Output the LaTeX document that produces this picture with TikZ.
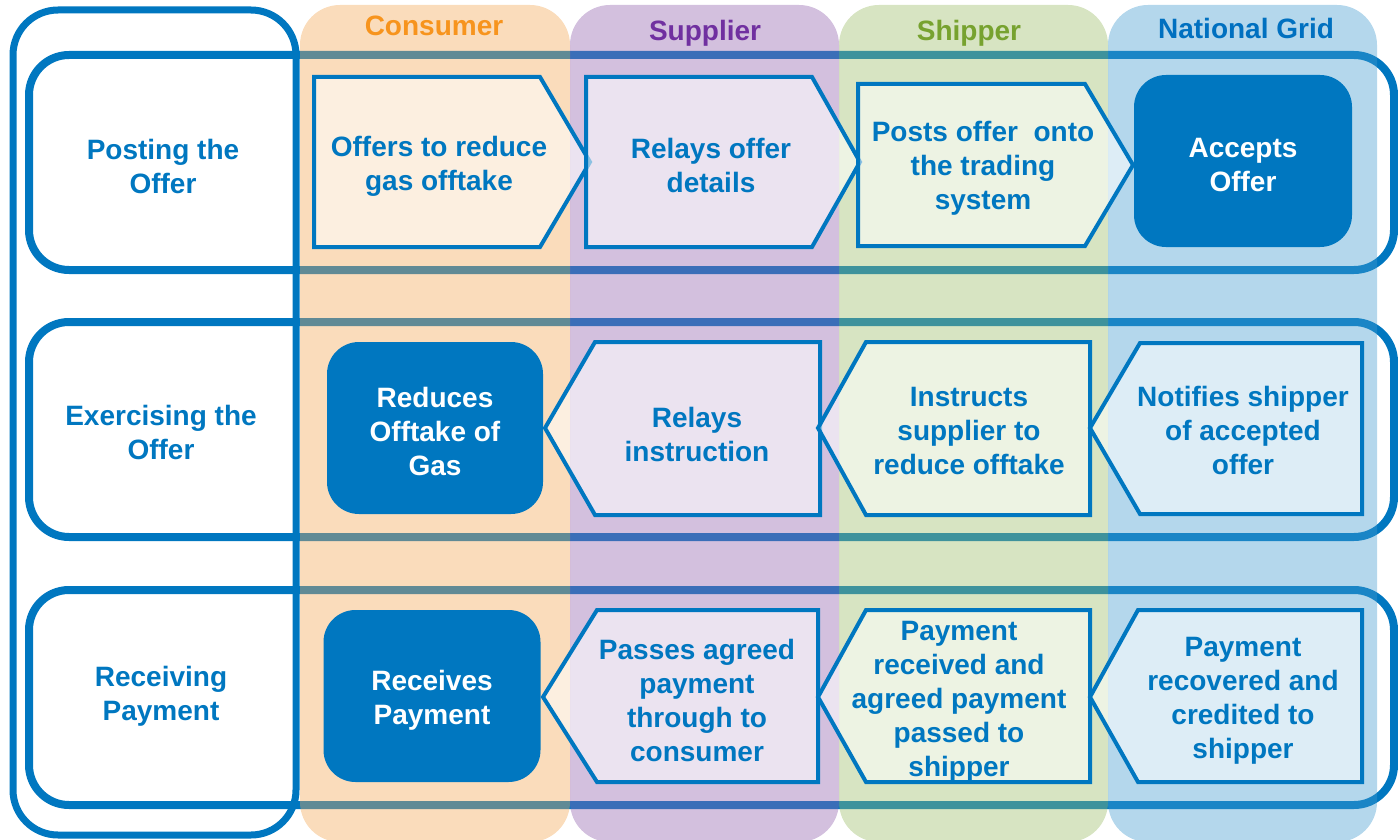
\documentclass[tikz,border=0pt]{standalone}
\usepackage{fontspec}
\setmainfont{Liberation Sans}
\definecolor{ngblue}{RGB}{0,119,192}
\definecolor{consC}{RGB}{242,167,85}
\definecolor{suppC}{RGB}{145,98,173}
\definecolor{shipC}{RGB}{155,187,102}
\definecolor{gridC}{RGB}{67,155,207}
\definecolor{consT}{RGB}{247,148,29}
\definecolor{suppT}{RGB}{112,48,160}
\definecolor{shipT}{RGB}{119,162,47}
\definecolor{gridT}{RGB}{0,112,192}
\tikzset{
  rowbox/.style={draw=ngblue, line width=8pt, rounded corners=40pt},
  tallbox/.style={draw=ngblue, line width=7pt, rounded corners=45pt},
  band/.style={fill opacity=0.4, rounded corners=40pt},
  chev/.style={draw=ngblue, line width=4pt, fill=white, fill opacity=0.55, line join=miter},
  darkbox/.style={fill=ngblue, rounded corners=32pt, inner sep=0pt},
  txt/.style={text=ngblue, font=\fontsize{28}{34}\selectfont\bfseries, align=center, inner sep=0pt},
  wtxt/.style={txt, text=white},
  head/.style={font=\fontsize{28}{34}\selectfont\bfseries, inner sep=0pt}
}
\begin{document}
\begin{tikzpicture}[x=1pt, y=-1pt]
\useasboundingbox (0,0) rectangle (1398,840);
% outlines
\draw[tallbox] (13,10) rectangle (296,835);
\draw[rowbox] (29,55) rectangle (1394,270);
\draw[rowbox] (29,322) rectangle (1394,537);
\draw[rowbox] (29,590) rectangle (1394,805);
% bands
\fill[band, consC] (300,5) rectangle (570,842);
\fill[band, suppC] (570,5) rectangle (839,842);
\fill[band, shipC] (839,5) rectangle (1108,842);
\fill[band, gridC] (1108,5) rectangle (1377,842);
% headers
\node[head, text=consT] (hcons) at (434,26) {Consumer};
\node[head, text=suppT] (hsupp) at (705,33) {Supplier};
\node[head, text=shipT] (hship) at (969,33) {Shipper};
\node[head, text=gridT] (hgrid) at (1246,28) {National Grid};
% row labels
\node[txt] (lpost) at (163,166) {Posting the\\Offer};
\node[txt] (lexer) at (161,432) {Exercising the\\Offer};
\node[txt] (lrecv) at (161,696) {Receiving\\Payment};
% row 1
\draw[chev] (314,77) -- (540,77) -- (590,162) -- (540,247) -- (314,247) -- cycle;
\node[txt] (offers) at (439,166) {Offers to reduce\\gas offtake};
\draw[chev] (586,77) -- (812,77) -- (860,162) -- (812,247) -- (586,247) -- cycle;
\node[txt] (relays) at (711,165) {Relays offer\\details};
\draw[chev] (858,84) -- (1085,84) -- (1133,165) -- (1085,246) -- (858,246) -- cycle;
\node[txt] (posts) at (983,168) {Posts offer\ \ onto\\the trading\\system};
\node[darkbox, minimum width=218pt, minimum height=172pt] (acceptbox) at (1243,161) {};
\node[wtxt] (accept) at (1243,165) {Accepts\\Offer};
% row 2
\node[darkbox, minimum width=216pt, minimum height=172pt] (reducebox) at (435,428) {};
\node[wtxt] (reduce) at (435,431) {Reduces\\Offtake of\\Gas};
\draw[chev] (820,342) -- (595,342) -- (545,428) -- (595,515) -- (820,515) -- cycle;
\node[txt] (relinst) at (697,434) {Relays\\instruction};
\draw[chev] (1090,342) -- (866,342) -- (818,428) -- (866,515) -- (1090,515) -- cycle;
\node[txt] (instr) at (969,431) {Instructs\\supplier to\\reduce offtake};
\draw[chev] (1362,343) -- (1140,343) -- (1090,428) -- (1140,514) -- (1362,514) -- cycle;
\node[txt] (notify) at (1243,430) {Notifies shipper\\of accepted\\offer};
% row 3
\node[darkbox, minimum width=217pt, minimum height=172pt] (recvbox) at (432,696) {};
\node[wtxt] (recv) at (432,700) {Receives\\Payment};
\draw[chev] (818,610) -- (597,610) -- (543,697) -- (597,782) -- (818,782) -- cycle;
\node[txt] (passes) at (697,700) {Passes agreed\\payment\\through to\\consumer};
\draw[chev] (1090,610) -- (866,610) -- (818,697) -- (866,782) -- (1090,782) -- cycle;
\node[txt] (payrecv) at (959,702) {Payment\\received and\\agreed payment\\passed to\\shipper};
\draw[chev] (1362,610) -- (1138,610) -- (1090,697) -- (1138,782) -- (1362,782) -- cycle;
\node[txt] (payrec) at (1243,701) {Payment\\recovered and\\credited to\\shipper};
\end{tikzpicture}
\end{document}
